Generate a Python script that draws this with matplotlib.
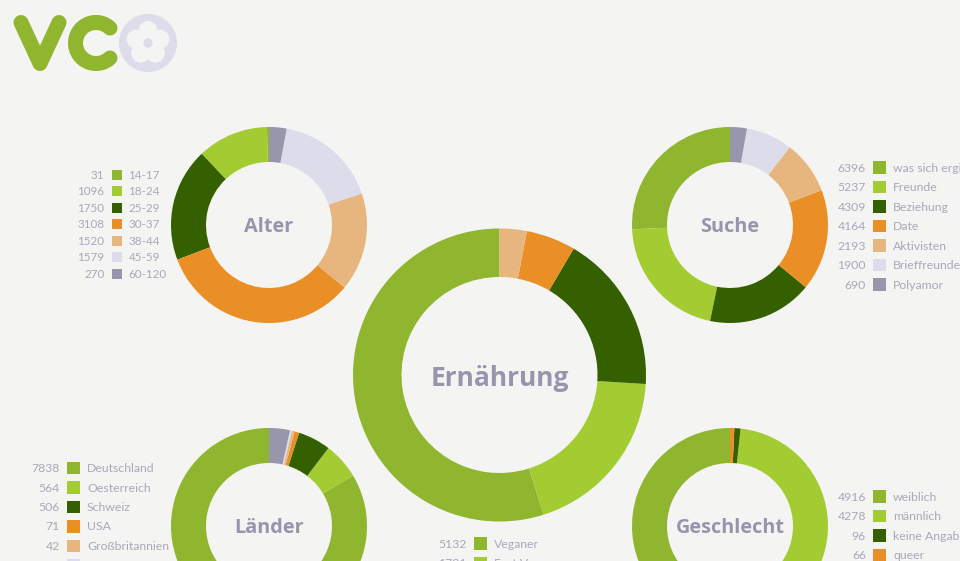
import matplotlib
matplotlib.use('Agg')
import matplotlib.pyplot as plt
from matplotlib.patches import Circle, Rectangle
import numpy as np

W, H = 960, 561
bg = '#f4f4f2'
colors = ['#90b52e', '#a3cc33', '#356000', '#e98f26', '#e7b67f', '#dddcea', '#9796ac']
textcol = '#a9a8ba'
titlecol = '#9695ad'
textfont = 'Lato'
titlefont = 'Open Sans'

alter_labels = ['14-17', '18-24', '25-29', '30-37', '38-44', '45-59', '60-120']
alter_values = [31, 1096, 1750, 3108, 1520, 1579, 270]

suche_labels = ['was sich ergibt', 'Freunde', 'Beziehung', 'Date', 'Aktivisten', 'Brieffreunde', 'Polyamor']
suche_values = [6396, 5237, 4309, 4164, 2193, 1900, 690]

# only the first rows can be read, the rest is estimated from the ring
ernaehrung_labels = ['Veganer', 'Fast Veganer', '', '', '']
ernaehrung_values = [5132, 1791, 1640, 510, 280]

laender_labels = ['Deutschland', 'Oesterreich', 'Schweiz', 'USA', 'Großbritannien', '', '']
laender_values = [7838, 564, 506, 71, 42, 31, 322]

geschlecht_labels = ['weiblich', 'männlich', 'keine Angabe', 'queer']
geschlecht_values = [4916, 4278, 96, 66]


def donut(fig, cx, cy, r, inner, values, title, size, shift):
    ax = fig.add_axes([(cx - r) / W, 1 - (cy + r) / H, 2 * r / W, 2 * r / H])
    ax.pie(values, colors=colors[:len(values)], startangle=90, counterclock=True,
           radius=1, wedgeprops=dict(width=1 - inner / r, linewidth=0))
    ax.set_xlim(-1, 1)
    ax.set_ylim(-1, 1)
    ax.patch.set_alpha(0)
    ax.text(0, -shift / r, title, ha='center', va='center', fontsize=size, fontweight='bold',
            color=titlecol, family=titlefont)
    return ax


def legend(page, box_left, top, values, labels, step=19.5, box=12.5, gap=20, size=8.8):
    for i, (v, l) in enumerate(zip(values, labels)):
        y = top + i * step
        page.add_patch(Rectangle((box_left, y - box / 2), box, box, color=colors[i], lw=0))
        # rows below the picture edge have no readable text
        if l:
            page.text(box_left - 7, y + 0.5, str(v), ha='right', va='center', fontsize=size, color=textcol, family=textfont)
            page.text(box_left + gap, y + 0.5, l, ha='left', va='center', fontsize=size, color=textcol, family=textfont)


fig = plt.figure(figsize=(W / 100, H / 100), dpi=100, facecolor=bg)

page = fig.add_axes([0, 0, 1, 1], zorder=5)
page.set_xlim(0, W)
page.set_ylim(H, 0)
page.axis('off')

donut(fig, 269, 225, 98, 63, alter_values, 'Alter', 14.3, 2)
donut(fig, 730, 225, 98, 63, suche_values, 'Suche', 14.3, 2)
donut(fig, 499.5, 375, 146.5, 98, ernaehrung_values, 'Ernährung', 19, 4)
donut(fig, 269, 526, 98, 63, laender_values, 'Länder', 14.3, 2)
donut(fig, 730, 526, 98, 63, geschlecht_values, 'Geschlecht', 14.3, 2)

legend(page, 111.5, 174.5, alter_values, alter_labels, step=16.5, box=10, gap=17, size=8.4)
legend(page, 873, 167.5, suche_values, suche_labels)
legend(page, 474, 543.5, ernaehrung_values[:2], ernaehrung_labels[:2])
legend(page, 67, 468, laender_values[:6], laender_labels[:6])
legend(page, 873, 496.5, geschlecht_values, geschlecht_labels)

# logo
green = colors[0]
page.plot([21, 40, 59], [22.5, 63.5, 22.5], color=green, lw=10.8, solid_capstyle='round', solid_joinstyle='round')
t = np.linspace(np.radians(47), np.radians(313), 60)
page.plot(96 + 20.5 * np.cos(t), 43 - 20.5 * np.sin(t), color=green, lw=10.8, solid_capstyle='round')
page.add_patch(Circle((148, 43), 29, color='#dddcea', lw=0))
for a in np.arange(90, 450, 72):
    page.add_patch(Circle((148 + 12.5 * np.cos(np.radians(a)), 43 - 12.5 * np.sin(np.radians(a))), 9.5, color=bg, lw=0))
page.add_patch(Circle((148, 43), 11, color=bg, lw=0))
page.add_patch(Circle((148, 43), 4.7, color='#dddcea', lw=0))

fig.savefig('out.png', dpi=100, facecolor=bg)
